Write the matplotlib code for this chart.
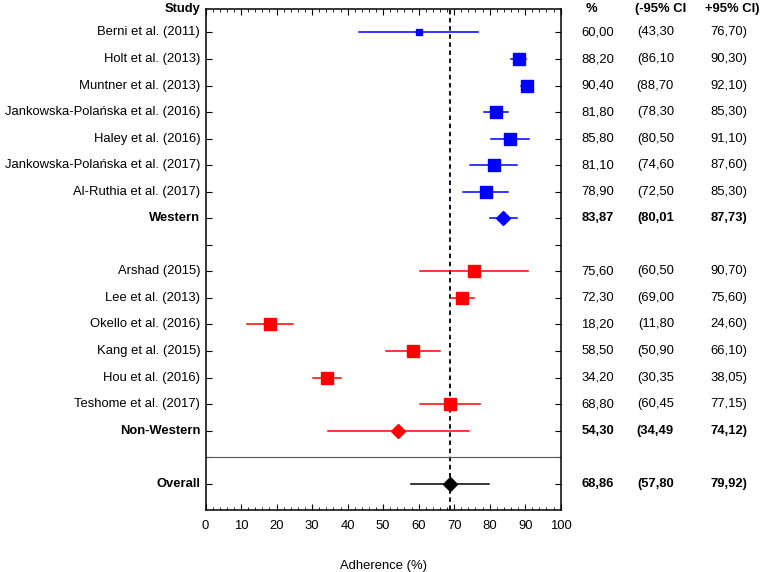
import matplotlib
matplotlib.use("Agg")
import matplotlib.pyplot as plt
from matplotlib.ticker import MultipleLocator

plt.rcParams['font.family'] = ['Liberation Sans', 'DejaVu Sans']

# datos del forest plot
studies = ["Berni et al. (2011)", "Holt et al. (2013)", "Muntner et al. (2013)",
           "Jankowska-Polańska et al. (2016)", "Haley et al. (2016)",
           "Jankowska-Polańska et al. (2017)", "Al-Ruthia et al. (2017)", "Western",
           "", "Arshad (2015)", "Lee et al. (2013)", "Okello et al. (2016)",
           "Kang et al. (2015)", "Hou et al. (2016)", "Teshome et al. (2017)",
           "Non-Western", "Overall"]
est = [60.00, 88.20, 90.40, 81.80, 85.80, 81.10, 78.90, 83.87,
       None, 75.60, 72.30, 18.20, 58.50, 34.20, 68.80, 54.30, 68.86]
lo = [43.30, 86.10, 88.70, 78.30, 80.50, 74.60, 72.50, 80.01,
      None, 60.50, 69.00, 11.80, 50.90, 30.35, 60.45, 34.49, 57.80]
hi = [76.70, 90.30, 92.10, 85.30, 91.10, 87.60, 85.30, 87.73,
      None, 90.70, 75.60, 24.60, 66.10, 38.05, 77.15, 74.12, 79.92]
summary = {"Western", "Non-Western", "Overall"}

# estilo
rows = list(range(1, 17)) + [18]
colors = ["blue"] * 8 + [None] + ["red"] * 7 + ["black"]
msizes = [4, 8.5, 9, 8, 8, 8, 8, 7.5, 0, 8, 8, 8.5, 8, 8, 8, 7, 7.5]
fs = 9.4

fig = plt.figure(figsize=(7.67, 5.72), dpi=100)
ax = fig.add_axes([0.268, 0.108, 0.463, 0.877])

for r, s, e, l, h, c, ms in zip(rows, studies, est, lo, hi, colors, msizes):
    if e is None:
        continue
    ax.plot([l, h], [r, r], color=c, lw=1.1, zorder=2)
    mk = "D" if s in summary else "s"
    ax.plot(e, r, marker=mk, color=c, ms=ms, mec=c, ls="none", zorder=3)

ax.axvline(est[-1], color="black", ls=(0, (2.5, 2)), lw=1.3, zorder=1)
ax.axhline(17, color="#555555", lw=0.8)

ax.set_xlim(0, 100)
ax.set_ylim(19, 0.1)
ax.xaxis.set_major_locator(MultipleLocator(10))
ax.xaxis.set_minor_locator(MultipleLocator(2))
ax.set_yticks(list(range(1, 19)))
ax.set_yticklabels([""] * 18)
ax.tick_params(axis="both", which="both", direction="in", top=True, right=True, labelsize=fs)
ax.tick_params(axis="x", which="major", length=4, pad=7)
ax.tick_params(axis="x", which="minor", length=2)
ax.tick_params(axis="y", length=4)
for sp in ax.spines.values():
    sp.set_linewidth(1.1)
ax.set_xlabel("Adherence (%)", fontsize=fs, labelpad=20)

def fmt(v):
    return f"{v:.2f}".replace(".", ",")

tr = ax.get_yaxis_transform()
ax.text(-0.015, 0.1, "Study", transform=tr, ha="right", va="center", fontsize=fs, fontweight="bold")
heads = [("%", 1.069), ("(-95% CI", 1.209), ("+95% CI)", 1.407)]
for t, x in heads:
    ax.text(x, 0.1, t, transform=tr, ha="left", va="center", fontsize=fs, fontweight="bold")

for r, s, e, l, h in zip(rows, studies, est, lo, hi):
    if e is None:
        continue
    w = "bold" if s in summary else "normal"
    ax.text(-0.015, r, s, transform=tr, ha="right", va="center", fontsize=fs, fontweight=w)
    ax.text(1.150, r, fmt(e), transform=tr, ha="right", va="center", fontsize=fs, fontweight=w)
    ax.text(1.319, r, "(" + fmt(l), transform=tr, ha="right", va="center", fontsize=fs, fontweight=w)
    ax.text(1.525, r, fmt(h) + ")", transform=tr, ha="right", va="center", fontsize=fs, fontweight=w)

fig.savefig("out.png", dpi=100)
